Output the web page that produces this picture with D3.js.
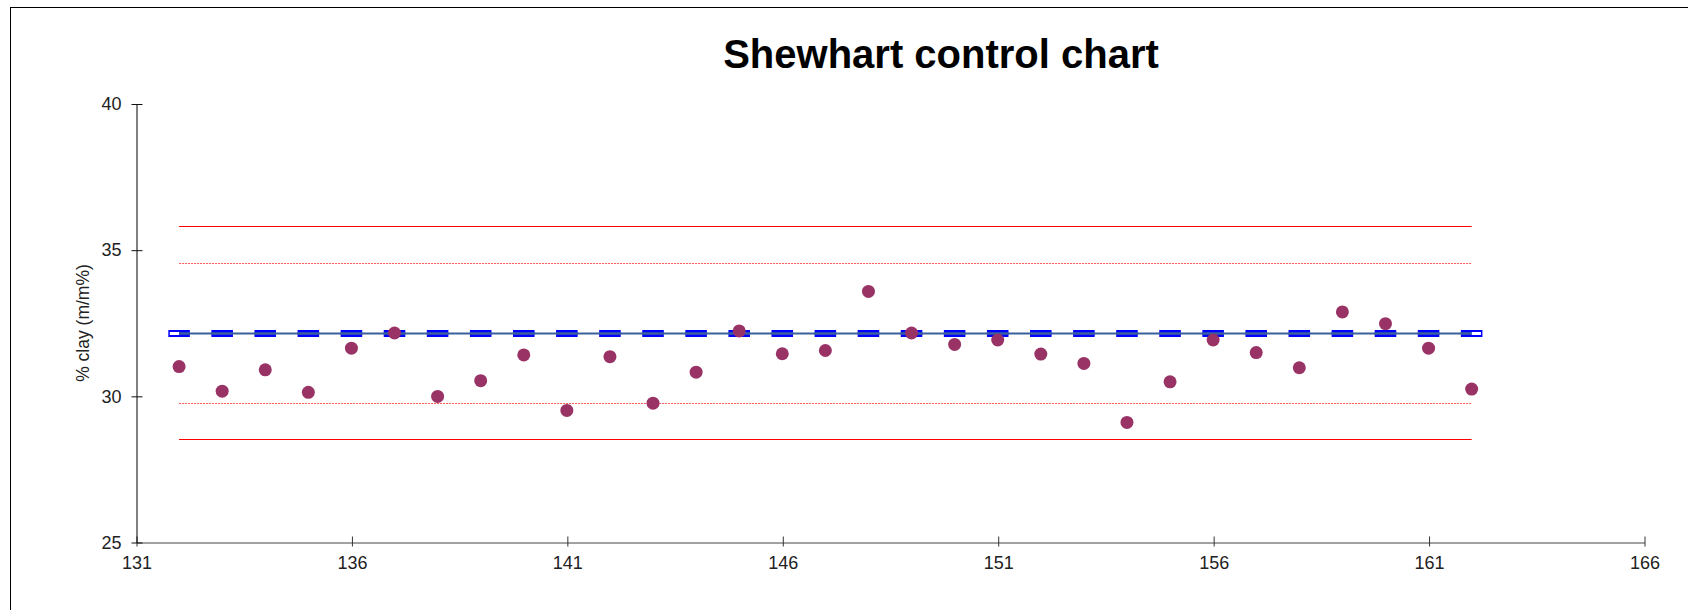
<!DOCTYPE html>
<html>
<head>
<meta charset="utf-8">
<script src="https://cdn.jsdelivr.net/npm/d3@7"></script>
<style>
    html, body { margin: 0; padding: 0; background: #fff; overflow: hidden; }
    svg { display: block; font-family: "Liberation Sans", Arial, sans-serif; }
</style>
</head>
<body>
<svg class="chart" width="1688" height="610"></svg>
<script>
// sample number + measured clay content
const sampleIds = [132, 133, 134, 135, 136, 137, 138, 139, 140, 141,
    142, 143, 144, 145, 146, 147, 148, 149, 150, 151,
    152, 153, 154, 155, 156, 157, 158, 159, 160, 161, 162]
const clayValues = [31.00, 30.16, 30.89, 30.12, 31.63, 32.15, 29.98, 30.52, 31.40, 29.50,
    31.34, 29.75, 30.81, 32.22, 31.44, 31.55, 33.57, 32.15, 31.76, 31.91,
    31.43, 31.11, 29.09, 30.48, 31.91, 31.48, 30.96, 32.87, 32.47, 31.63, 30.23]

// control limits (centre, warning, action)
const centreValue = 32.16
const warningValues = [34.55, 29.75]
const actionValues = [35.80, 28.52]

const xTickValues = [131, 136, 141, 146, 151, 156, 161, 166]
const yTickValues = [25, 30, 35, 40]

const svg = d3.select("svg.chart")

// outer frame (runs off the bottom / right like the original)
svg.append("rect")
    .attr("x", 10.5)
    .attr("y", 7.5)
    .attr("width", 1700)
    .attr("height", 620)
    .attr("fill", "none")
    .attr("stroke", "#000")

svg.append("text")
    .attr("x", 941)
    .attr("y", 68)
    .attr("text-anchor", "middle")
    .attr("font-size", "40px")
    .attr("font-weight", "bold")
    .attr("fill", "#000")
    .text("Shewhart control chart")

const scaleX = d3.scaleLinear()
    .domain([131, 166])
    .range([136, 1644])

const scaleY = d3.scaleLinear()
    .domain([25, 40])
    .range([542, 103.5])

const crisp = v => Math.round(v) + 0.5

// axes
const axisX = d3.axisBottom(scaleX)
    .tickValues(xTickValues)
    .tickSizeInner(4)
    .tickSizeOuter(0)
    .tickPadding(10)
    .tickFormat(d3.format("d"))

const axisY = d3.axisLeft(scaleY)
    .tickValues(yTickValues)
    .tickSizeInner(5)
    .tickSizeOuter(0)
    .tickPadding(10)
    .tickFormat(d3.format("d"))

const axisXGroup = svg.append("g")
    .attr("class", "x-axis")
    .attr("transform", `translate(0.5, ${crisp(scaleY(25))})`)
    .call(axisX)

const axisYGroup = svg.append("g")
    .attr("class", "y-axis")
    .attr("transform", `translate(${crisp(scaleX(131))}, 0.5)`)
    .call(axisY)

// ticks cross the axis line
axisXGroup.selectAll(".tick line").attr("y1", -6).attr("stroke", "#333")
axisYGroup.selectAll(".tick line").attr("x1", 6).attr("stroke", "#111")
axisXGroup.select(".domain").attr("stroke", "#444")
axisYGroup.select(".domain").attr("stroke", "#000")
svg.selectAll(".tick text")
    .attr("font-family", "Liberation Sans, Arial, sans-serif")
    .attr("font-size", "18px")
    .attr("fill", "#222")

svg.append("text")
    .attr("transform", `translate(89, 323) rotate(-90)`)
    .attr("text-anchor", "middle")
    .attr("font-size", "17.5px")
    .attr("fill", "#222")
    .text("% clay (m/m%)")

// action + warning limits
const firstId = sampleIds[0]
const lastId = sampleIds[sampleIds.length - 1]

svg.selectAll("line.action")
    .data(actionValues)
    .enter()
    .append("line")
    .attr("class", "action")
    .attr("x1", scaleX(firstId))
    .attr("x2", scaleX(lastId))
    .attr("y1", (d, i) => {return crisp(scaleY(d))})
    .attr("y2", (d, i) => {return crisp(scaleY(d))})
    .attr("stroke", "#ff0000")
    .attr("stroke-width", 1)

svg.selectAll("line.warning")
    .data(warningValues)
    .enter()
    .append("line")
    .attr("class", "warning")
    .attr("x1", scaleX(firstId))
    .attr("x2", scaleX(lastId))
    .attr("y1", (d, i) => {return crisp(scaleY(d))})
    .attr("y2", (d, i) => {return crisp(scaleY(d))})
    .attr("stroke", "#ff5a5a")
    .attr("stroke-width", 1)
    .attr("stroke-dasharray", "2 1")

// centre line: outlined blue dashes, one per sample, plus thin steel line
const unit = scaleX(1) - scaleX(0)
const centreY = crisp(scaleY(centreValue))

svg.append("line")
    .attr("x1", scaleX(firstId - 0.25))
    .attr("x2", scaleX(lastId + 0.25))
    .attr("y1", centreY)
    .attr("y2", centreY)
    .attr("stroke", "#0000ff")
    .attr("stroke-width", 7)
    .attr("stroke-dasharray", `${unit / 2} ${unit / 2}`)

svg.append("line")
    .attr("x1", scaleX(firstId - 0.25) + 1.5)
    .attr("x2", scaleX(lastId + 0.25) - 1.5)
    .attr("y1", centreY)
    .attr("y2", centreY)
    .attr("stroke", "#fff")
    .attr("stroke-width", 3)
    .attr("stroke-dasharray", `${unit / 2 - 3} ${unit / 2 + 3}`)

svg.append("line")
    .attr("x1", scaleX(firstId))
    .attr("x2", scaleX(lastId))
    .attr("y1", centreY)
    .attr("y2", centreY)
    .attr("stroke", "#1f2fd0")
    .attr("stroke-width", 3)
    .attr("stroke-dasharray", `${unit / 2} ${unit / 2}`)
    .attr("stroke-dashoffset", unit / 4)

svg.append("line")
    .attr("x1", scaleX(firstId))
    .attr("x2", scaleX(lastId))
    .attr("y1", centreY)
    .attr("y2", centreY)
    .attr("stroke", "#3a609c")
    .attr("stroke-width", 2)

// sample points
svg.selectAll("circle.sample")
    .data(clayValues)
    .enter()
    .append("circle")
    .attr("class", "sample")
    .attr("cx", (d, i) => {return scaleX(sampleIds[i])})
    .attr("cy", (d, i) => {return scaleY(d)})
    .attr("r", 6.5)
    .attr("fill", "#993366")
</script>
</body>
</html>
